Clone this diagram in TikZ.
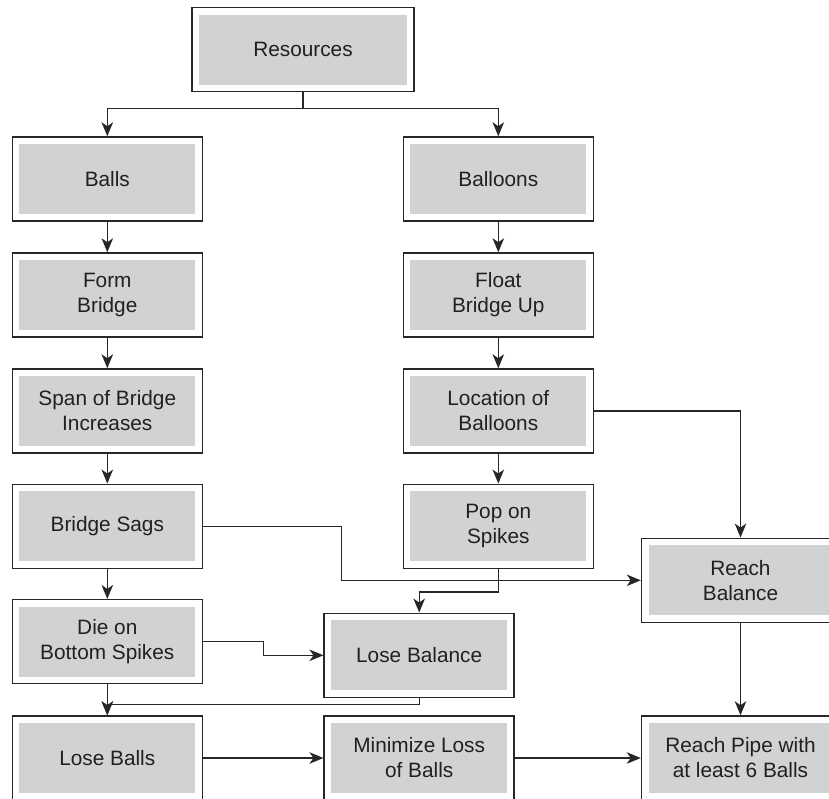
\documentclass[tikz,border=0pt]{standalone}
\usepackage{fontspec}
\setmainfont{Liberation Sans}
\usetikzlibrary{arrows.meta}
\definecolor{boxgray}{RGB}{209,210,212}
\definecolor{linec}{RGB}{40,38,38}
\definecolor{textc}{RGB}{35,31,32}
\tikzset{
  stepbox/.style={draw=linec, line width=1.5pt, fill=white, minimum width=190pt, minimum height=84pt,
    inner sep=0pt, align=center, text=textc, font=\fontsize{20.8}{25}\selectfont,
    path picture={\fill[boxgray] ([shift={(7pt,7pt)}]path picture bounding box.south west) rectangle ([shift={(-7pt,-7pt)}]path picture bounding box.north east);}},
  conn/.style={draw=linec, line width=1.35pt},
  arr/.style={conn, -{Stealth[length=14pt, width=11.5pt, inset=4pt]}}
}
\begin{document}
\begin{tikzpicture}[x=1pt,y=-1pt]
\useasboundingbox (0,0) rectangle (829,798);
\clip (0,0) rectangle (829,798);
\node[stepbox, minimum width=222pt] (res) at (303,49.5) {Resources};
\node[stepbox] (balls) at (107.3,179) {Balls};
\node[stepbox] (form) at (107.3,295) {Form\\Bridge};
\node[stepbox] (span) at (107.3,411) {Span of Bridge\\Increases};
\node[stepbox] (sags) at (107.3,526.3) {Bridge Sags};
\node[stepbox] (die) at (107.3,641.7) {Die on\\Bottom Spikes};
\node[stepbox] (lballs) at (107.3,758) {Lose Balls};
\node[stepbox] (balloons) at (498.3,179) {Balloons};
\node[stepbox] (float) at (498.3,295) {Float\\Bridge Up};
\node[stepbox] (loc) at (498.3,411) {Location of\\Balloons};
\node[stepbox] (pop) at (498.3,526.3) {Pop on\\Spikes};
\node[stepbox] (losebal) at (419.2,655.3) {Lose Balance};
\node[stepbox] (minimize) at (419.2,758) {Minimize Loss\\of Balls};
\node[stepbox, minimum width=198pt] (reach) at (740.5,580.3) {Reach\\Balance};
\node[stepbox, minimum width=198pt] (pipe) at (740.5,758) {Reach Pipe with\\at least 6 Balls};
\coordinate (j) at (303,108.3);
\coordinate (k1) at (341.7,580.3);
\coordinate (k2) at (419.2,592);
\coordinate (k3) at (263.3,655.3);
\coordinate (k4) at (107.3,704.3);
\draw[conn] (res.south) -- (j);
\draw[arr] (j) -| (balls.north);
\draw[arr] (j) -| (balloons.north);
\draw[arr] (balls.south) -- (form.north);
\draw[arr] (form.south) -- (span.north);
\draw[arr] (span.south) -- (sags.north);
\draw[arr] (sags.south) -- (die.north);
\draw[arr] (die.south) -- (lballs.north);
\draw[arr] (balloons.south) -- (float.north);
\draw[arr] (float.south) -- (loc.north);
\draw[arr] (loc.south) -- (pop.north);
\draw[arr] (loc.east) -| (reach.north);
\draw[arr] (sags.east) -| (k1) -- (reach.west);
\draw[arr] (pop.south) |- (k2) -- (losebal.north);
\draw[arr] (die.east) -| (k3) -- (losebal.west);
\draw[arr] (losebal.south) |- (k4) -- (lballs.north);
\draw[arr] (lballs.east) -- (minimize.west);
\draw[arr] (minimize.east) -- (pipe.west);
\draw[arr] (reach.south) -- (pipe.north);
\end{tikzpicture}
\end{document}
